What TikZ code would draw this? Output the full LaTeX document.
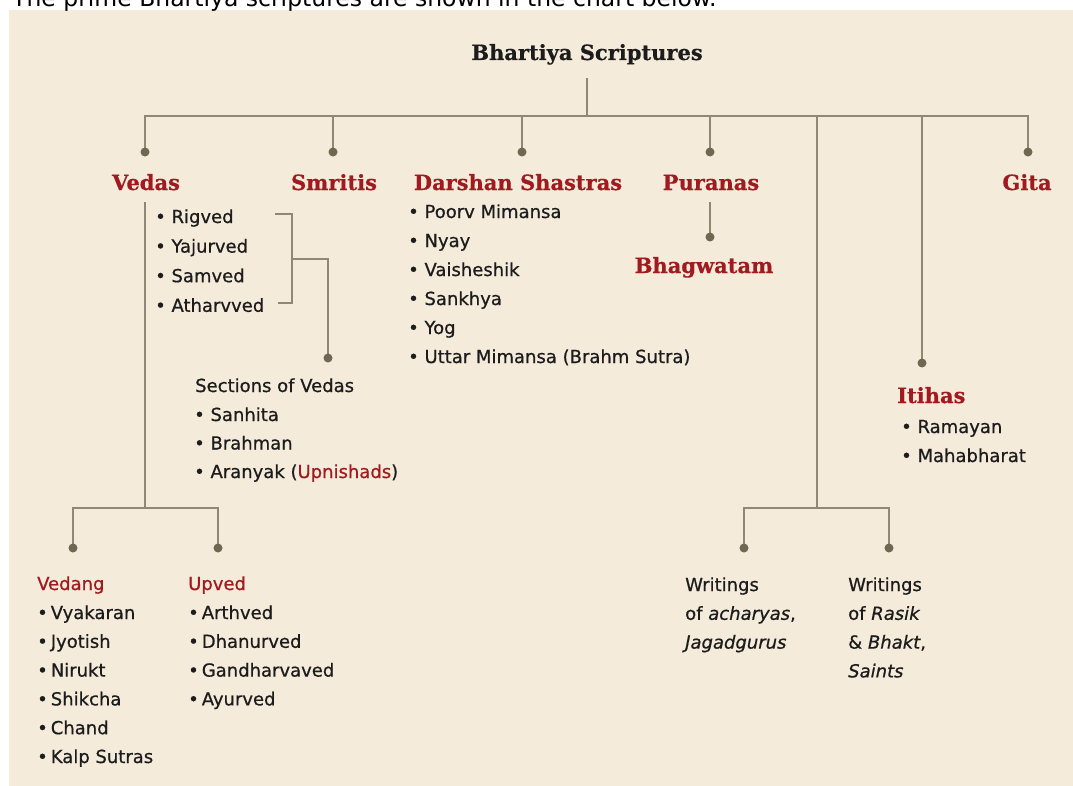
\documentclass[tikz,border=0pt]{standalone}
\usepackage{fontspec}
\setmainfont{DejaVu Sans}[FakeBold=0.7]
\newfontfamily\introfont{DejaVu Sans}
\newfontfamily\headfont{DejaVu Serif}[FakeBold=0.5]
\definecolor{beige}{HTML}{F5EBDB}
\definecolor{linec}{HTML}{8E8876}
\definecolor{dotc}{HTML}{6E6852}
\definecolor{redh}{HTML}{A01A20}
\definecolor{txt}{HTML}{1C1C1C}
\begin{document}
\begin{tikzpicture}[x=1bp,y=-1bp,
  conn/.style={draw=linec,line width=2bp},
  head/.style={font=\headfont\bfseries\fontsize{21bp}{25bp}\selectfont,text=redh,inner sep=0pt},
  titlestyle/.style={font=\headfont\bfseries\fontsize{21bp}{25bp}\selectfont,text=txt,inner sep=0pt},
  item/.style={font=\fontsize{18bp}{22bp}\selectfont,text=txt,inner sep=0pt,anchor=base west},
  subhead/.style={item,text=redh},
]
\useasboundingbox (0,0) rectangle (1073,786);
\clip (0,0) rectangle (1073,786);
\fill[beige] (9,10) rectangle (1073,786);
\node[anchor=base west,font=\introfont\fontsize{23.5bp}{28bp}\selectfont,inner sep=0pt] (intro) at (12,7) {The prime Bhartiya scriptures are shown in the chart below.};

% title
\node[titlestyle,anchor=base] (title) at (587,60) {Bhartiya Scriptures};

% coordinates
\coordinate (tb) at (587,78);
\coordinate (hub) at (587,116);
\coordinate (dVedas) at (145,152);
\coordinate (dSmritis) at (333,152);
\coordinate (dDarshan) at (522,152);
\coordinate (dPuranas) at (710,152);
\coordinate (dItihas) at (922,363);
\coordinate (dGita) at (1028,152);
\coordinate (wSplit) at (817,508);
\coordinate (dW1) at (744,548);
\coordinate (dW2) at (889,548);
\coordinate (vTop) at (145,202);
\coordinate (vSplit) at (145,508);
\coordinate (dVedang) at (73,548);
\coordinate (dUpved) at (218,548);
\coordinate (pTop) at (710,202);
\coordinate (dBhag) at (710,237);
\coordinate (b1) at (275,214);
\coordinate (b2) at (292,214);
\coordinate (b3) at (292,303);
\coordinate (b4) at (278,303);
\coordinate (bm) at (292,259);
\coordinate (dSections) at (328,358);

% connectors
\draw[conn] (tb) -- (hub);
\draw[conn] (dVedas) -- (dVedas |- hub) -- (dGita |- hub) -- (dGita);
\foreach \d in {dSmritis,dDarshan,dPuranas,dItihas} \draw[conn] (\d |- hub) -- (\d);
\draw[conn] (wSplit |- hub) -- (wSplit);
\draw[conn] (dW1) -- (dW1 |- wSplit) -- (dW2 |- wSplit) -- (dW2);
\draw[conn] (vTop) -- (vSplit);
\draw[conn] (dVedang) -- (dVedang |- vSplit) -- (dUpved |- vSplit) -- (dUpved);
\draw[conn] (pTop) -- (dBhag);
\draw[conn] (b1) -- (b2) -- (b3) -- (b4);
\draw[conn] (bm) -- (bm -| dSections) -- (dSections);

\foreach \d in {dVedas,dSmritis,dDarshan,dPuranas,dItihas,dGita,dW1,dW2,dVedang,dUpved,dBhag,dSections}
  \fill[dotc] (\d) circle (4.5);

% headings
\node[head,anchor=base] (vedas) at (146,190) {Vedas};
\node[head,anchor=base] (smritis) at (334,190) {Smritis};
\node[head,anchor=base] (darshan) at (518,190) {Darshan Shastras};
\node[head,anchor=base] (puranas) at (711,190) {Puranas};
\node[head,anchor=base] (gita) at (1027,190) {Gita};
\node[head,anchor=base] (bhag) at (704,273) {Bhagwatam};
\node[head,anchor=base west] (itihas) at (897,403) {Itihas};

% Vedas list
\foreach \t [count=\i] in {Rigved,Yajurved,Samved,Atharvved}
  \node[item] (veda-\i) at (155,{223+29.6*(\i-1)}) {• \t};

% Darshan list
\foreach \t [count=\i] in {Poorv Mimansa,Nyay,Vaisheshik,Sankhya,Yog,Uttar Mimansa (Brahm Sutra)}
  \node[item] (darshan-\i) at (408,{218+29*(\i-1)}) {• \t};

% Sections of Vedas
\node[item] (sections) at (195,392) {Sections of Vedas};
\foreach \t [count=\i] in {Sanhita,Brahman,{Aranyak (\textcolor{redh}{Upnishads})}}
  \node[item] (section-\i) at (194,{421+28.5*(\i-1)}) {• \t};

% Itihas
\foreach \t [count=\i] in {Ramayan,Mahabharat}
  \node[item] (itihas-\i) at (901,{433+29*(\i-1)}) {• \t};

% Vedang
\node[subhead] (vedang) at (37,590) {Vedang};
\foreach \t [count=\i] in {Vyakaran,Jyotish,Nirukt,Shikcha,Chand,Kalp Sutras}
  \node[item] (vedang-\i) at (37,{619+28.8*(\i-1)}) {•\,\t};

% Upved
\node[subhead] (upved) at (188,590) {Upved};
\foreach \t [count=\i] in {Arthved,Dhanurved,Gandharvaved,Ayurved}
  \node[item] (upved-\i) at (188,{619+28.8*(\i-1)}) {•\,\t};

% Writings
\foreach \t [count=\i] in {Writings,{of \textit{acharyas},},\textit{Jagadgurus}}
  \node[item] (wa-\i) at (685,{591+28.8*(\i-1)}) {\t};
\foreach \t [count=\i] in {Writings,{of \textit{Rasik}},{\& \textit{Bhakt},},\textit{Saints}}
  \node[item] (wb-\i) at (848,{591+28.8*(\i-1)}) {\t};
\end{tikzpicture}
\end{document}
